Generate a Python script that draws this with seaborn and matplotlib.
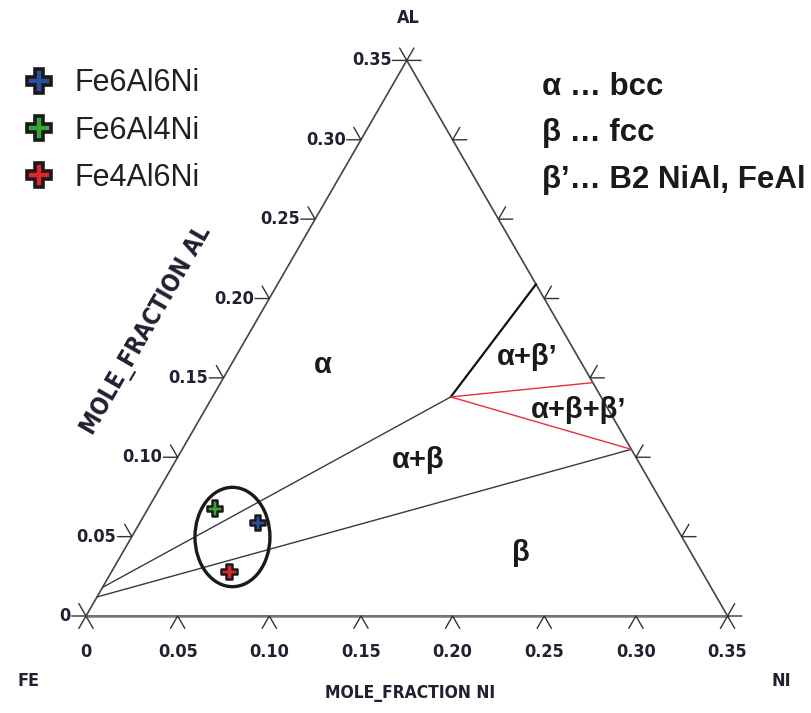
import numpy as np
import pandas as pd
import seaborn as sns
import matplotlib.pyplot as plt
from matplotlib.patches import Ellipse

# alloy compositions (mole fractions)
alloys = ['Fe6Al6Ni', 'Fe6Al4Ni', 'Fe4Al6Ni']
alloy_ni = [0.064, 0.036, 0.064]
alloy_al = [0.059, 0.068, 0.028]
alloy_colors = ['#2b4fa3', '#3aa535', '#e3242b']

# phase boundaries as (ni, al) lists
alpha_ab_ni = [0.0, 0.130]      # alpha / alpha+beta
alpha_ab_al = [0.018, 0.138]
ab_beta_ni = [0.0, 0.245]       # alpha+beta / beta
ab_beta_al = [0.012, 0.105]
alpha_abp_ni = [0.130, 0.141]   # alpha / alpha+beta'
alpha_abp_al = [0.138, 0.209]
tri_ni = [0.203, 0.130, 0.245]  # three phase triangle (red)
tri_al = [0.147, 0.138, 0.105]

phase_labels = ['α', 'α+β’', 'α+β+β’', 'α+β', 'β']
phase_ni = [0.050, 0.159, 0.204, 0.132, 0.217]
phase_al = [0.158, 0.163, 0.130, 0.098, 0.040]

ticks = [0, 0.05, 0.10, 0.15, 0.20, 0.25, 0.30, 0.35]
tick_labels = ['0', '0.05', '0.10', '0.15', '0.20', '0.25', '0.30', '0.35']

key_lines = ['α … bcc', 'β … fcc', 'β’… B2 NiAl, FeAl']

S3 = np.sqrt(3) / 2
TOP = 0.35


def to_xy(ni, al):
    ni = np.asarray(ni, dtype=float)
    al = np.asarray(al, dtype=float)
    return ni + al / 2, al * S3


sns.set_theme(style='white')
plt.rcParams['font.family'] = ['Liberation Sans', 'DejaVu Sans']
narrow = dict(family=['DejaVu Sans'], fontstretch='condensed', fontweight='bold',
              color='#202030')

fig = plt.figure(figsize=(8.12, 7.13), dpi=100)
ax = fig.add_axes([0, 0, 1, 1])
ax.set_xlim(-0.04692, 0.39607)
ax.set_ylim(-0.05292, 0.33606)
ax.axis('off')

# triangle frame
fx, fy = to_xy([0, TOP, 0, 0], [0, 0, TOP, 0])
ax.plot(fx, fy, color='#444444', lw=1.2, zorder=2)
ax.plot(fx[:2], fy[:2], color='#777777', lw=1.8, zorder=2)

# ticks
T = 0.0078
tk = dict(color='#333333', lw=1.0, zorder=2)
for t, lab in zip(ticks, tick_labels):
    # bottom (NI)
    ax.plot([t - T / 2, t, t + T / 2], [-T * S3, 0, -T * S3], **tk)
    ax.text(t, -0.0195, lab, ha='center', va='center', fontsize=13, **narrow)
    # left (AL)
    px, py = to_xy(0, t)
    ax.plot([px - T, px, px - T / 2], [py, py, py + T * S3], **tk)
    ax.text(px - T - 0.0006, py, lab, ha='right', va='center', fontsize=13, **narrow)
    # right edge
    rx, ry = to_xy(TOP - t, t)
    ax.plot([rx + T, rx, rx + T / 2], [ry, ry, ry + T * S3], **tk)

# phase boundaries
for ni, al, c, w in [(alpha_ab_ni, alpha_ab_al, '#3a3a3a', 1.0),
                     (ab_beta_ni, ab_beta_al, '#3a3a3a', 1.0),
                     (alpha_abp_ni, alpha_abp_al, '#111111', 1.6),
                     (tri_ni, tri_al, '#e8303a', 1.0)]:
    lx, ly = to_xy(ni, al)
    sns.lineplot(x=lx, y=ly, sort=False, estimator=None, color=c, lw=w, ax=ax, zorder=3)

for lab, ni, al in zip(phase_labels, phase_ni, phase_al):
    x, y = to_xy(ni, al)
    ax.text(x, y, lab, ha='center', va='center', fontsize=21,
            fontweight='bold', color='#1a1a1a')

# alloys
ax_, ay_ = to_xy(alloy_ni, alloy_al)
df = pd.DataFrame({'alloy': alloys, 'x': ax_, 'y': ay_})
sns.scatterplot(data=df, x='x', y='y', hue='alloy', marker='P', s=120,
                palette=dict(zip(alloys, alloy_colors)), edgecolor='#1a1a1a',
                linewidth=1.8, ax=ax, zorder=5)
ax.add_patch(Ellipse((0.0799, 0.0431), 0.0409, 0.0542, fill=False,
                     ec='#1a1a1a', lw=2.4, zorder=4))
sns.move_legend(ax, 'upper left', bbox_to_anchor=(0.029, 0.904), frameon=False,
                title=None, fontsize=22, markerscale=1.55, handlelength=1.0,
                handletextpad=0.66, labelspacing=0.56, borderpad=0,
                borderaxespad=0, labelcolor='#231f20')
for h in ax.get_legend().legend_handles:
    h.set_markeredgewidth(2.6)

# phase key
for i, line in enumerate(key_lines):
    fig.text(542 / 812, 1 - (95 + 46.5 * i) / 713, line, ha='left', va='baseline',
             fontsize=22.5, fontweight='bold', color='#1a1a1a')

# axis titles / corners
ax.text(0.1757, 0.3262, 'AL', ha='center', va='center', fontsize=13, **narrow)
ax.text(-0.0311, -0.0354, 'FE', ha='center', va='center', fontsize=13, **narrow)
ax.text(0.3791, -0.0354, 'NI', ha='center', va='center', fontsize=13, **narrow)
ax.text(0.1767, -0.0420, 'MOLE_FRACTION NI', ha='center', va='center',
        fontsize=12.5, **narrow)
ax.text(0.0330, 0.1560, 'MOLE_FRACTION AL', ha='center', va='center', fontsize=17,
        rotation=60, rotation_mode='anchor', **narrow)

fig.savefig('out.png', dpi=100)
